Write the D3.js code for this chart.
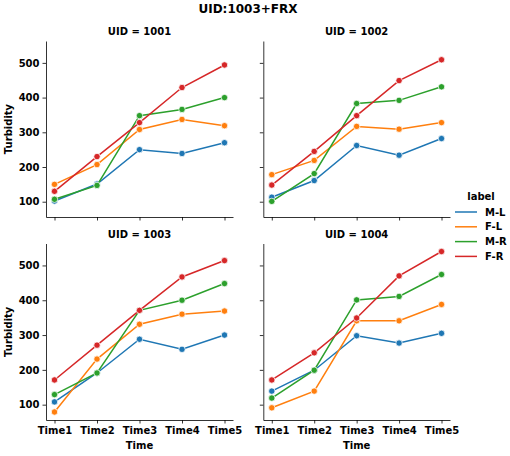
<!DOCTYPE html>
<html>
<head>
<meta charset="utf-8">
<title>UID:1003+FRX</title>
<script src="https://cdn.jsdelivr.net/npm/d3@7"></script>
<style>
  body { margin: 0; background: #fff; }
  text { font-family: "DejaVu Sans", sans-serif; font-weight: bold; fill: #000; }
  .axis text { font-size: 10px; }
  .axis path, .axis line { stroke: #000; stroke-width: 0.8; }
</style>
</head>
<body>
<script>
// data
var times = ["Time1", "Time2", "Time3", "Time4", "Time5"];
var labels = ["M-L", "F-L", "M-R", "F-R"];
var uids = [1001, 1002, 1003, 1004];
var colors = ["#1f77b4", "#ff7f0e", "#2ca02c", "#d62728"];
var yTicks = [100, 200, 300, 400, 500];

var uid1001 = [
  [102, 151, 250, 239, 270],
  [150, 207, 308, 337, 319],
  [107, 147, 348, 366, 400],
  [130, 230, 328, 429, 494]
];
var uid1002 = [
  [113, 161, 262, 234, 282],
  [178, 219, 317, 309, 328],
  [101, 181, 383, 392, 431],
  [148, 245, 348, 449, 509]
];
var uid1003 = [
  [108, 191, 288, 259, 300],
  [79, 231, 331, 360, 369],
  [129, 191, 371, 400, 448],
  [171, 271, 371, 467, 514]
];
var uid1004 = [
  [139, 199, 298, 277, 305],
  [91, 139, 341, 341, 388],
  [119, 199, 401, 411, 474],
  [171, 249, 349, 470, 540]
];
var panels = [uid1001, uid1002, uid1003, uid1004];

var W = 510, H = 456;
var svg = d3.select("body").append("svg")
  .attr("width", W).attr("height", H);

svg.append("text")
  .attr("x", 248).attr("y", 13)
  .attr("text-anchor", "middle")
  .style("font-size", "12px")
  .text("UID:1003+FRX");

// shared y domain with 5% margin like seaborn
var all = d3.merge(panels.map(function(p){ return d3.merge(p); }));
var lo = d3.min(all), hi = d3.max(all), pad = (hi - lo) * 0.05;

var cols = [[46, 233], [263.3, 450]];
var rows = [[41, 217], [243.5, 420]];

panels.forEach(function(data, i){
  var c = cols[i % 2], r = rows[Math.floor(i / 2)];
  var x = d3.scalePoint().domain(times).range(c).padding(0.2);
  var y = d3.scaleLinear().domain([lo - pad, hi + pad]).range([r[1], r[0]]);
  var g = svg.append("g");

  var xa = g.append("g").attr("class", "axis")
    .attr("transform", "translate(0," + r[1] + ")")
    .call(d3.axisBottom(x).tickSize(3.5).tickSizeOuter(0).tickPadding(3));
  if (i < 2) xa.selectAll(".tick text").remove();

  var ya = g.append("g").attr("class", "axis")
    .attr("transform", "translate(" + c[0] + ",0)")
    .call(d3.axisLeft(y).tickValues(yTicks).tickSize(3.5).tickSizeOuter(0).tickPadding(3));
  if (i % 2 == 1) ya.selectAll(".tick text").remove();

  g.append("text")
    .attr("x", (c[0] + c[1]) / 2).attr("y", r[0] - 6)
    .attr("text-anchor", "middle")
    .style("font-size", "10px")
    .text("UID = " + uids[i]);

  if (i % 2 == 0) {
    g.append("text")
      .attr("transform", "translate(12," + ((r[0] + r[1]) / 2) + ") rotate(-90)")
      .attr("text-anchor", "middle")
      .style("font-size", "10px")
      .text("Turbidity");
  }
  if (i >= 2) {
    g.append("text")
      .attr("x", (c[0] + c[1]) / 2).attr("y", r[1] + 29)
      .attr("text-anchor", "middle")
      .style("font-size", "10px")
      .text("Time");
  }

  var line = d3.line()
    .x(function(d, j){ return x(times[j]); })
    .y(function(d){ return y(d); });

  data.forEach(function(vals, k){
    g.append("path")
      .attr("d", line(vals))
      .attr("fill", "none")
      .attr("stroke", colors[k])
      .attr("stroke-width", 1.5);
    g.selectAll(null).data(vals).enter().append("circle")
      .attr("cx", function(d, j){ return x(times[j]); })
      .attr("cy", function(d){ return y(d); })
      .attr("r", 3.2)
      .attr("fill", colors[k])
      .attr("stroke", "#fff")
      .attr("stroke-width", 0.75);
  });
});

// legend
var lg = svg.append("g");
lg.append("text")
  .attr("x", 481).attr("y", 200)
  .attr("text-anchor", "middle")
  .style("font-size", "10px")
  .text("label");
labels.forEach(function(l, k){
  var yy = 212 + k * 14.8;
  lg.append("line")
    .attr("x1", 455).attr("x2", 477)
    .attr("y1", yy).attr("y2", yy)
    .attr("stroke", colors[k]).attr("stroke-width", 1.5);
  lg.append("text")
    .attr("x", 485).attr("y", yy + 3.5)
    .style("font-size", "10px")
    .text(l);
});
</script>
</body>
</html>
